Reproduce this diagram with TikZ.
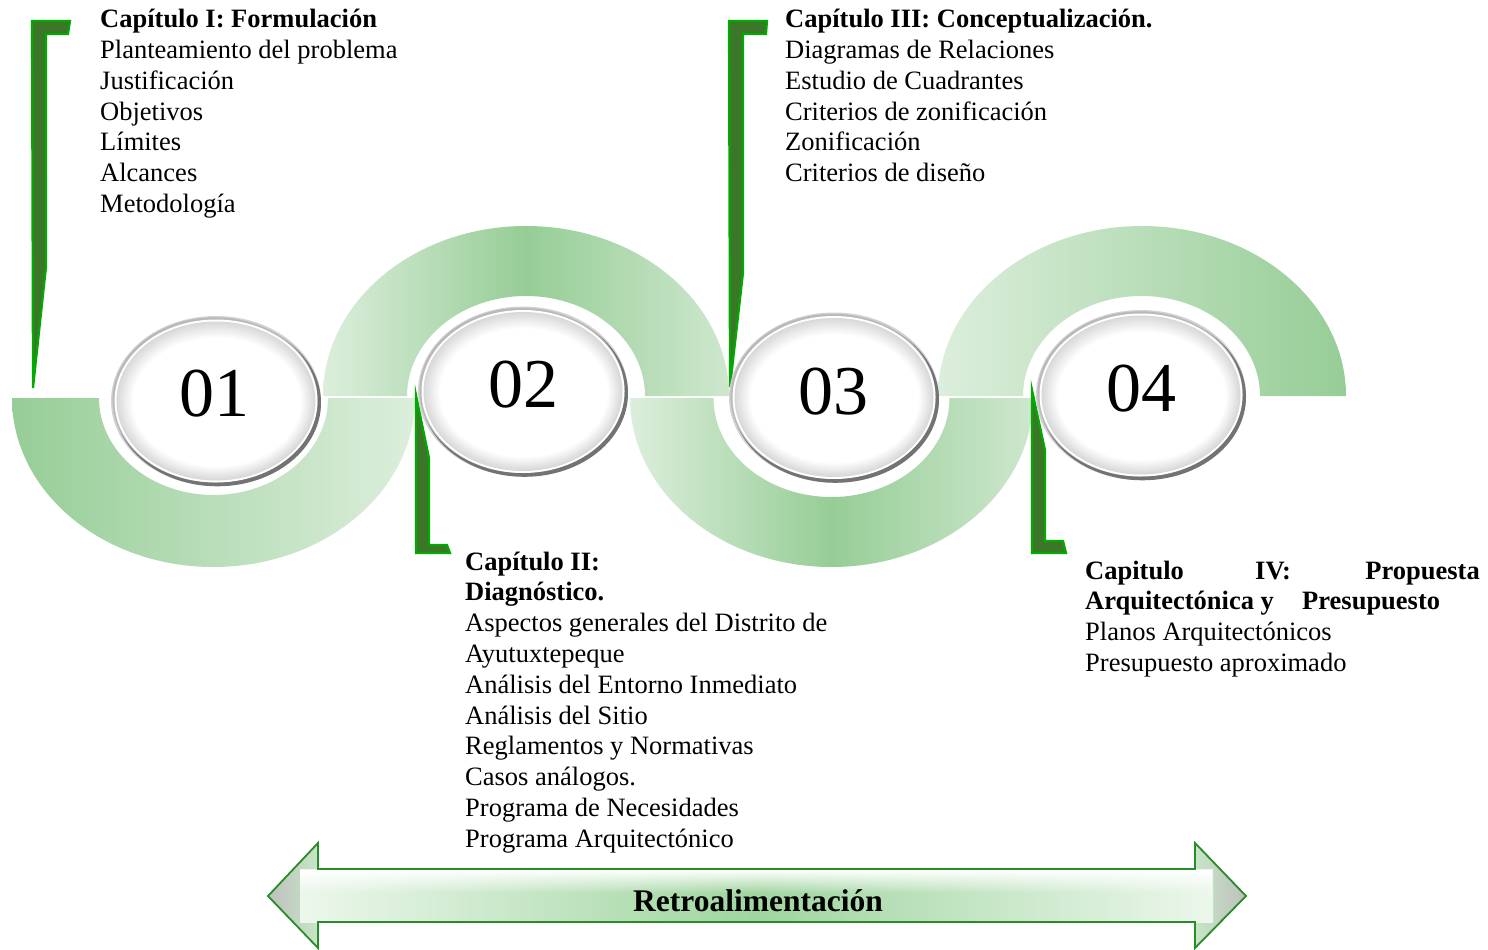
\documentclass[tikz,border=0pt]{standalone}
\usepackage{fontspec}
\setmainfont{Liberation Serif}
\usetikzlibrary{shapes.geometric,fadings}
\definecolor{bandDark}{RGB}{150,205,150}
\definecolor{bandLight}{RGB}{220,238,220}
\definecolor{bracketFill}{RGB}{60,118,40}
\definecolor{bracketLine}{RGB}{0,170,0}
\definecolor{arrowLine}{RGB}{40,140,40}
\definecolor{arrowMid}{RGB}{160,213,160}
\definecolor{arrowLight}{RGB}{236,247,236}
\tikzfading[name=topglow, top color=transparent!0, bottom color=transparent!100]
\tikzset{
  txt/.style={anchor=base west, inner sep=0pt, font=\fontsize{26.5}{30}\selectfont},
  btxt/.style={anchor=base west, inner sep=0pt, font=\fontsize{26.5}{30}\selectfont\bfseries},
  lensnode/.style={ellipse, fill=gray!35, minimum width=210pt, minimum height=170pt, inner sep=0pt},
  numtxt/.style={inner sep=0pt, anchor=center, font=\fontsize{70}{70}\selectfont},
  brk/.style={fill=bracketFill, draw=bracketLine, line width=2.2pt, line join=miter},
}
\newcommand{\lensbody}[1]{%
  \fill[black!55] ([shift={(1.5,1.8)}]#1.center) ellipse [x radius=103.5, y radius=83.5];
  \fill[gray!55] ([shift={(-1,-1.2)}]#1.center) ellipse [x radius=102.5, y radius=82.5];
  \fill[white] (#1.center) ellipse [x radius=101.5, y radius=81.5];
  \foreach \k in {0,...,16}{%
    \pgfmathtruncatemacro{\g}{max(0,30-2*\k)}%
    \fill[gray!\g] ([shift={(0.06*\k,0.08*\k)}]#1.center) ellipse [x radius={99.5-\k}, y radius={79.5-\k}];
  }%
}
\begin{document}
\begin{tikzpicture}[x=1pt, y=-1pt]
\useasboundingbox (0,0) rectangle (1488,950);
% bands
\shade[left color=bandDark, right color=bandLight]
  (12,398) arc[start angle=180, end angle=0, x radius=201.5, y radius=169]
  -- (328,398) arc[start angle=0, end angle=180, x radius=114.5, y radius=97] -- cycle;
\shade[left color=bandLight, right color=bandLight!80!bandDark, middle color=bandDark]
  (323,396) arc[start angle=180, end angle=360, x radius=203, y radius=170]
  -- (645,396) arc[start angle=0, end angle=-180, x radius=119, y radius=100] -- cycle;
\shade[left color=bandLight, right color=bandLight!80!bandDark, middle color=bandDark]
  (630,398) arc[start angle=180, end angle=0, x radius=201.5, y radius=169]
  -- (949.5,398) arc[start angle=0, end angle=180, x radius=118, y radius=99] -- cycle;
\shade[left color=bandLight, right color=bandDark]
  (938,396) arc[start angle=180, end angle=360, x radius=204, y radius=170]
  -- (1260,396) arc[start angle=0, end angle=-180, x radius=118.5, y radius=100] -- cycle;
% brackets
\draw[brk] (32,21) -- (70,21) -- (68,34) -- (46,34) -- (46,267) -- (33,388) -- cycle;
\draw[brk] (729,21) -- (767,21) -- (766,34) -- (743,34) -- (743,273) -- (730,387) -- cycle;
\draw[brk] (416,395) -- (429,458) -- (429,545) -- (447,545) -- (450,553) -- (416,553) -- cycle;
\draw[brk] (1032,390) -- (1045,450) -- (1045,541) -- (1063,541) -- (1066,553) -- (1032,553) -- cycle;
% circles
\node[lensnode] (c1) at (216,401) {};
\lensbody{c1}
\node[lensnode] (c2) at (523,391.5) {};
\lensbody{c2}
\node[lensnode] (c3) at (834,397.5) {};
\lensbody{c3}
\node[lensnode] (c4) at (1141,395) {};
\lensbody{c4}
\node[numtxt] (n1) at (214,393.5) {01};
\node[numtxt] (n2) at (523.5,385) {02};
\node[numtxt] (n3) at (833,392) {03};
\node[numtxt] (n4) at (1141.5,388.5) {04};
% Chapter I
\node[btxt] (h1) at (100,27.6) {Capítulo I: Formulación};
\foreach \t [count=\i] in {Planteamiento del problema, Justificación, Objetivos, Límites, Alcances, Metodología}
  \node[txt] (a\i) at (100,27.6+30.8*\i) {\t};
% Chapter III
\node[btxt] (h3) at (785,27.6) {Capítulo III: Conceptualización.};
\foreach \t [count=\i] in {Diagramas de Relaciones, Estudio de Cuadrantes, Criterios de zonificación, Zonificación, Criterios de diseño}
  \node[txt] (c\i t) at (785,27.6+30.8*\i) {\t};
% Chapter II
\node[btxt] (h2a) at (465,570) {Capítulo II:};
\node[btxt] (h2b) at (465,600.8) {Diagnóstico.};
\foreach \t [count=\i] in {Aspectos generales del Distrito de, Ayutuxtepeque, Análisis del Entorno Inmediato, Análisis del Sitio, Reglamentos y Normativas, Casos análogos., Programa de Necesidades, Programa Arquitectónico}
  \node[txt] (b\i) at (465,600.8+30.8*\i) {\t};
% Chapter IV
\node[btxt] (h4a) at (1085,579) {Capitulo};
\node[btxt] (h4b) at (1255,579) {IV:};
\node[btxt, anchor=base east] (h4c) at (1480,579) {Propuesta};
\node[btxt] (h4d) at (1085,609.8) {Arquitectónica y};
\node[btxt] (h4e) at (1302,609.8) {Presupuesto};
\node[txt] (d1) at (1085,640.6) {Planos Arquitectónicos};
\node[txt] (d2) at (1085,671.4) {Presupuesto aproximado};
% feedback arrow
\shade[left color=gray!50, right color=arrowMid!60!white] (318,843) -- (268,896) -- (318,948) -- cycle;
\shade[left color=arrowMid!60!white, right color=gray!50] (1195,843) -- (1246,896) -- (1195,948) -- cycle;
\shade[left color=arrowLight, right color=arrowLight, middle color=arrowMid] (300,869) rectangle (1213,922);
\fill[white, path fading=topglow] (300,870) rectangle (1213,893);
\draw[arrowLine, line width=1.8pt, line join=miter]
  (268,896) -- (318,843) -- (318,869) -- (1195,869) -- (1195,843) -- (1246,896)
  -- (1195,948) -- (1195,922) -- (318,922) -- (318,948) -- cycle;
\node[inner sep=0pt, font=\fontsize{31.5}{32}\selectfont\bfseries] (rt) at (758,901) {Retroalimentación};
\end{tikzpicture}
\end{document}
